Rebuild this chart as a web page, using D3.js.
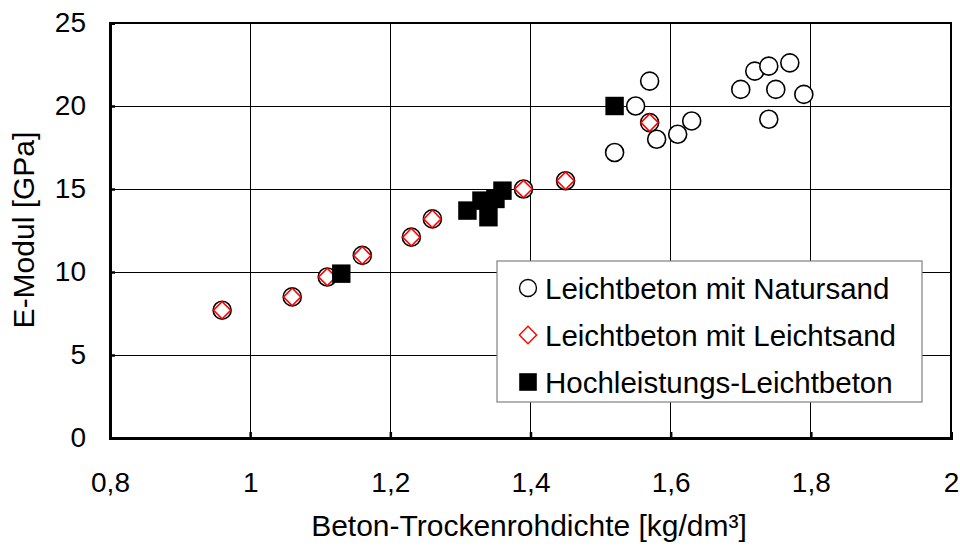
<!DOCTYPE html>
<html>
<head>
<meta charset="utf-8">
<script src="https://cdn.jsdelivr.net/npm/d3@7"></script>
<style>
  body { margin: 0; background: #fff; }
  svg { font-family: "Liberation Sans", Arial, sans-serif; }
</style>
</head>
<body>
<svg id="chart" width="960" height="546"></svg>
<script>
// data
var naturX = [1.52, 1.55, 1.57, 1.58, 1.61, 1.63, 1.70, 1.72, 1.74, 1.74, 1.75, 1.77, 1.79];
var naturY = [17.2, 20.0, 21.5, 18.0, 18.3, 19.1, 21.0, 22.1, 22.4, 19.2, 21.0, 22.6, 20.7];

var leichtX = [0.96, 1.06, 1.11, 1.16, 1.23, 1.26, 1.39, 1.45, 1.57];
var leichtY = [7.7, 8.5, 9.7, 11.0, 12.1, 13.2, 15.0, 15.5, 19.0];

var hlX = [1.13, 1.31, 1.33, 1.34, 1.35, 1.36, 1.52];
var hlY = [9.9, 13.7, 14.3, 13.3, 14.4, 14.9, 20.0];

var xTicks = [0.8, 1, 1.2, 1.4, 1.6, 1.8, 2];
var yTicks = [0, 5, 10, 15, 20, 25];
var legendLabels = ["Leichtbeton mit Natursand", "Leichtbeton mit Leichtsand", "Hochleistungs-Leichtbeton"];

var svg = d3.select("#chart");
var margin = {left: 110, top: 23, right: 951, bottom: 438};

var x = d3.scaleLinear().domain([0.8, 2]).range([margin.left, margin.right]);
var y = d3.scaleLinear().domain([0, 25]).range([margin.bottom, margin.top]);

var fmt = function(d) { return String(d).replace(".", ","); };

// grid lines
svg.append("g").selectAll("line").data(xTicks.slice(1, -1)).enter().append("line")
  .attr("x1", function(d) { return x(d); }).attr("x2", function(d) { return x(d); })
  .attr("y1", y(0)).attr("y2", y(25))
  .attr("stroke", "#000").attr("stroke-width", 1).attr("shape-rendering", "crispEdges");
svg.append("g").selectAll("line").data(yTicks.slice(1, -1)).enter().append("line")
  .attr("y1", function(d) { return y(d); }).attr("y2", function(d) { return y(d); })
  .attr("x1", x(0.8)).attr("x2", x(2))
  .attr("stroke", "#000").attr("stroke-width", 1).attr("shape-rendering", "crispEdges");

// frame: thin top/right, thick left/bottom
svg.append("rect").attr("x", x(0.8)).attr("y", y(25))
  .attr("width", x(2) - x(0.8)).attr("height", y(0) - y(25))
  .attr("fill", "none").attr("stroke", "#000").attr("stroke-width", 2);

// axes
var xAxis = d3.axisBottom(x).tickValues(xTicks).tickFormat(fmt).tickSize(-6).tickPadding(34);
var yAxis = d3.axisLeft(y).tickValues(yTicks).tickFormat(fmt).tickSize(-5).tickPadding(24);

var gx = svg.append("g").attr("transform", "translate(0," + y(0) + ")").call(xAxis);
var gy = svg.append("g").attr("transform", "translate(" + x(0.8) + ",0)").call(yAxis);

[gx, gy].forEach(function(g) {
  g.attr("font-size", 28).attr("font-family", "Liberation Sans, Arial, sans-serif");
  g.select(".domain").attr("stroke", "#000").attr("stroke-width", 3);
  g.selectAll(".tick line").attr("stroke", "#000").attr("stroke-width", 2.5);
  g.selectAll(".tick text").attr("fill", "#000");
});

// axis titles
svg.append("text").attr("x", 529).attr("y", 536).attr("text-anchor", "middle")
  .attr("font-size", 30).text("Beton-Trockenrohdichte [kg/dm³]");
svg.append("text").attr("transform", "translate(34,230) rotate(-90)")
  .attr("text-anchor", "middle").attr("font-size", 30).text("E-Modul [GPa]");

// markers
var symCircle = d3.symbol().type(d3.symbolCircle).size(Math.PI * 81);
var symDiamond = d3.symbol().type(d3.symbolSquare).size(150);
var symSquare = d3.symbol().type(d3.symbolSquare).size(340);

var marks = svg.append("g");

marks.selectAll(".nat").data(d3.range(naturX.length)).enter().append("path")
  .attr("class", "nat")
  .attr("transform", function(i) { return "translate(" + x(naturX[i]) + "," + y(naturY[i]) + ")"; })
  .attr("d", symCircle).attr("fill", "#fff").attr("stroke", "#000").attr("stroke-width", 1.6);

// the light-sand markers sit on a black ring
marks.selectAll(".leiRing").data(d3.range(leichtX.length)).enter().append("path")
  .attr("class", "leiRing")
  .attr("transform", function(i) { return "translate(" + x(leichtX[i]) + "," + y(leichtY[i]) + ")"; })
  .attr("d", symCircle).attr("fill", "#fff").attr("stroke", "#000").attr("stroke-width", 1.6);
marks.selectAll(".lei").data(d3.range(leichtX.length)).enter().append("path")
  .attr("class", "lei")
  .attr("transform", function(i) { return "translate(" + x(leichtX[i]) + "," + y(leichtY[i]) + ") rotate(45)"; })
  .attr("d", symDiamond).attr("fill", "#fff").attr("stroke", "#f00").attr("stroke-width", 1.6);

marks.selectAll(".hl").data(d3.range(hlX.length)).enter().append("path")
  .attr("class", "hl")
  .attr("transform", function(i) { return "translate(" + x(hlX[i]) + "," + y(hlY[i]) + ")"; })
  .attr("d", symSquare).attr("fill", "#000");

// legend
var leg = svg.append("g");
leg.append("rect").attr("x", 497).attr("y", 261).attr("width", 425).attr("height", 141)
  .attr("fill", "#fff").attr("stroke", "#808080").attr("stroke-width", 1.2);

var rowY = [288, 335, 382];
var legCircle = d3.symbol().type(d3.symbolCircle).size(Math.PI * 72);
leg.append("path").attr("transform", "translate(528," + rowY[0] + ")")
  .attr("d", legCircle).attr("fill", "#fff").attr("stroke", "#000").attr("stroke-width", 1.4);
leg.append("path").attr("transform", "translate(528," + rowY[1] + ") rotate(45)")
  .attr("d", symDiamond).attr("fill", "#fff").attr("stroke", "#f00").attr("stroke-width", 1.4);
leg.append("path").attr("transform", "translate(528," + rowY[2] + ")")
  .attr("d", d3.symbol().type(d3.symbolSquare).size(310)).attr("fill", "#000");

leg.selectAll("text").data(legendLabels).enter().append("text")
  .attr("x", 545).attr("y", function(d, i) { return rowY[i]; })
  .attr("dy", "0.36em").attr("font-size", 29.5).text(function(d) { return d; });
</script>
</body>
</html>
